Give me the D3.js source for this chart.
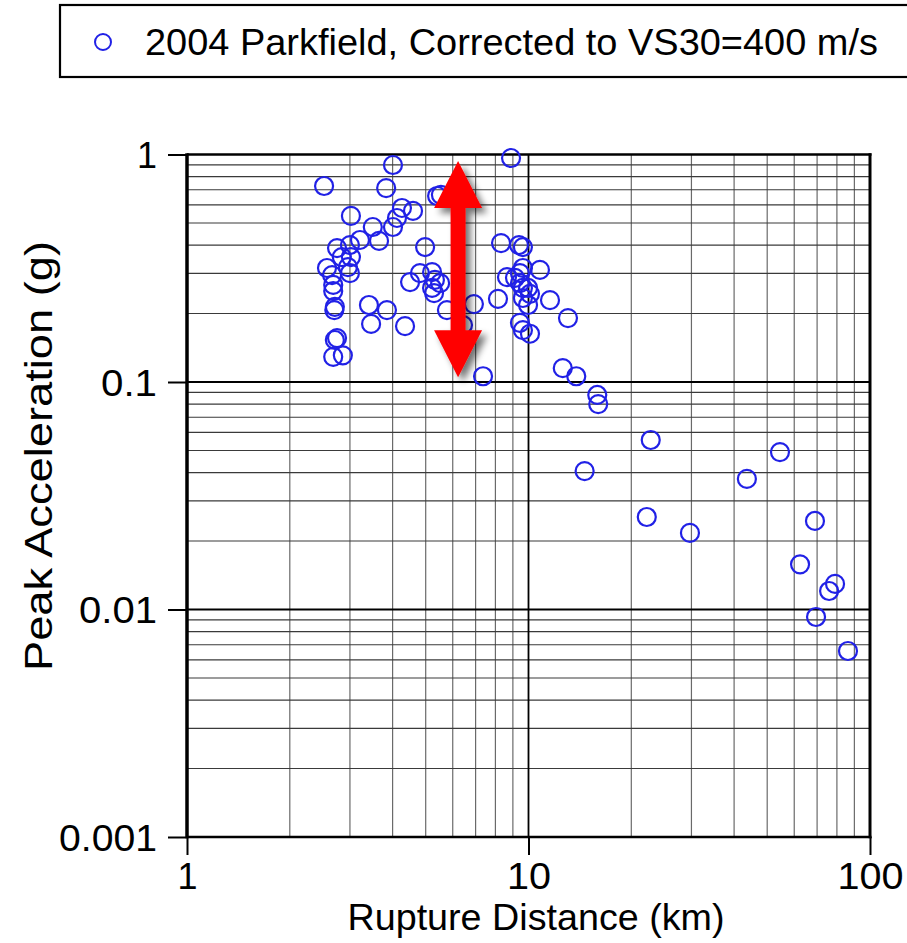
<!DOCTYPE html>
<html>
<head>
<meta charset="utf-8">
<script src="https://cdn.jsdelivr.net/npm/d3@7"></script>
<style>
  html, body { margin: 0; padding: 0; background: #fff; }
  svg { display: block; }
  text { font-family: "Liberation Sans", Arial, Helvetica, sans-serif; fill: #000; }
</style>
</head>
<body>
<svg id="chart" width="907" height="943"></svg>
<script>
// Rupture distance (km) and peak ground acceleration (g), 2004 Parkfield records
const distanceKm = [
  2.52, 3.02, 3.50, 3.65, 3.21, 2.75, 3.00, 2.84, 3.02, 2.96, 3.00, 2.57, 2.66, 2.68, 2.68,
  2.71, 2.70, 3.41, 3.85, 3.46, 4.35, 2.75, 2.71, 2.68, 2.86,
  4.01, 3.83, 4.26, 4.59, 4.12, 4.01, 5.40, 5.54, 4.98, 8.89,
  4.50, 4.81, 5.22, 5.32, 5.51, 5.22, 5.29, 5.77, 6.92, 6.43, 7.36, 8.14, 8.31, 9.38, 9.63,
  8.65, 9.13, 9.44, 9.63, 10.8, 9.44, 9.63, 9.97, 10.1, 9.63, 9.97, 11.56, 9.44, 9.63, 10.1, 13.05,
  12.6, 13.8, 15.9, 16.0, 22.8, 14.6, 54.5, 43.6, 22.2, 29.7, 69.0, 62.4, 79.0, 75.9, 69.5, 86.2
];
const pgaG = [
  0.727, 0.537, 0.480, 0.417, 0.421, 0.388, 0.400, 0.354, 0.354, 0.320, 0.301, 0.317, 0.295, 0.267, 0.251,
  0.214, 0.207, 0.218, 0.207, 0.180, 0.176, 0.156, 0.153, 0.129, 0.131,
  0.899, 0.712, 0.582, 0.565, 0.526, 0.480, 0.657, 0.665, 0.392, 0.965,
  0.275, 0.301, 0.304, 0.281, 0.272, 0.259, 0.246, 0.207, 0.220, 0.178, 0.106, 0.232, 0.408, 0.400, 0.392,
  0.289, 0.287, 0.301, 0.317, 0.311, 0.272, 0.259, 0.259, 0.244, 0.234, 0.218, 0.229, 0.182, 0.169, 0.163, 0.191,
  0.115, 0.106, 0.0877, 0.080, 0.0556, 0.0406, 0.0492, 0.0375, 0.0255, 0.0217, 0.0245, 0.0158, 0.01295, 0.01206, 0.00927, 0.00657
];

const xTickValues = [1, 10, 100];
const xTickLabels = ["1", "10", "100"];
const yTickValues = [1, 0.1, 0.01, 0.001];
const yTickLabels = ["1", "0.1", "0.01", "0.001"];

const legendLabel = "2004 Parkfield, Corrected to VS30=400 m/s";
const xTitle = "Rupture Distance (km)";
const yTitle = "Peak Acceleration (g)";

// Arrow marking the scatter band: spans these PGA values at this distance
const arrowDistance = 6.22;
const arrowTop = 0.936;
const arrowBottom = 0.105;

const svg = d3.select("#chart");
const plot = { left: 187, right: 870, top: 154.5, bottom: 837 };

const x = d3.scaleLog().domain([1, 100]).range([plot.left, plot.right]);
const y = d3.scaleLog().domain([0.001, 1]).range([plot.bottom, plot.top]);

// Stretch a text element horizontally to a given rendered width
function fitWidth(sel, w) {
  sel.attr("textLength", w).attr("lengthAdjust", "spacingAndGlyphs");
}

// Minor gridlines at 2..9 of every decade
const minorX = [];
for (const d of [1, 10]) for (let k = 2; k <= 9; k++) minorX.push(d * k);
const minorY = [];
for (const d of [0.001, 0.01, 0.1]) for (let k = 2; k <= 9; k++) minorY.push(d * k);

const grid = svg.append("g");
grid.selectAll(".mx").data(minorX).join("line")
  .attr("x1", d => x(d)).attr("x2", d => x(d))
  .attr("y1", plot.top).attr("y2", plot.bottom)
  .attr("stroke", "#6a6a6a").attr("stroke-width", 1.2);
grid.selectAll(".my").data(minorY).join("line")
  .attr("x1", plot.left).attr("x2", plot.right)
  .attr("y1", d => y(d)).attr("y2", d => y(d))
  .attr("stroke", "#3a3a3a").attr("stroke-width", 1.2);
// Major gridlines
grid.selectAll(".Mx").data([10]).join("line")
  .attr("x1", d => x(d)).attr("x2", d => x(d))
  .attr("y1", plot.top).attr("y2", plot.bottom)
  .attr("stroke", "#000").attr("stroke-width", 1.8);
grid.selectAll(".My").data([0.1, 0.01]).join("line")
  .attr("x1", plot.left).attr("x2", plot.right)
  .attr("y1", d => y(d)).attr("y2", d => y(d))
  .attr("stroke", "#000").attr("stroke-width", 1.8);

// Plot frame
svg.append("line").attr("x1", plot.left).attr("x2", plot.right + 1.5)
  .attr("y1", plot.top).attr("y2", plot.top).attr("stroke", "#000").attr("stroke-width", 2.5);
svg.append("line").attr("x1", plot.left).attr("x2", plot.right + 1.5)
  .attr("y1", plot.bottom).attr("y2", plot.bottom).attr("stroke", "#000").attr("stroke-width", 2.5);
svg.append("line").attr("x1", plot.left).attr("x2", plot.left)
  .attr("y1", plot.top - 1.2).attr("y2", plot.bottom + 1.2).attr("stroke", "#000").attr("stroke-width", 3.5);
svg.append("line").attr("x1", plot.right).attr("x2", plot.right)
  .attr("y1", plot.top - 1.2).attr("y2", plot.bottom + 1.2).attr("stroke", "#000").attr("stroke-width", 3);

// Axes with outward major ticks
const xAxis = d3.axisBottom(x).tickValues(xTickValues)
  .tickFormat((d, i) => xTickLabels[i]).tickSize(18).tickPadding(5);
const gx = svg.append("g").attr("transform", `translate(0,${plot.bottom})`).call(xAxis);
gx.select(".domain").remove();
gx.selectAll(".tick line").attr("stroke", "#000").attr("stroke-width", 2);
gx.selectAll(".tick text").attr("font-size", 37).attr("dy", "0.78em")
  .each(function (d, i) { fitWidth(d3.select(this), [20, 44, 66][i]); });

const yAxis = d3.axisLeft(y).tickValues(yTickValues)
  .tickFormat((d, i) => yTickLabels[i]).tickSize(19).tickPadding(11);
const gy = svg.append("g").attr("transform", `translate(${plot.left},0)`).call(yAxis);
gy.select(".domain").remove();
gy.selectAll(".tick line").attr("stroke", "#000").attr("stroke-width", 2);
gy.selectAll(".tick text").attr("font-size", 37).attr("dy", "0.36em")
  .each(function (d, i) { fitWidth(d3.select(this), [20, 56, 78, 98][i]); });

// Axis titles
svg.append("text").attr("x", 536).attr("y", 930).attr("text-anchor", "middle")
  .attr("font-size", 37).text(xTitle).call(s => fitWidth(s, 377));
svg.append("text").attr("transform", "translate(52,456) rotate(-90)")
  .attr("text-anchor", "middle").attr("font-size", 38).text(yTitle)
  .call(s => fitWidth(s, 430));

// Data points
const pts = distanceKm.map((d, i) => ({ d, a: pgaG[i] }));
svg.append("g").selectAll("circle").data(pts).join("circle")
  .attr("cx", p => x(p.d)).attr("cy", p => y(p.a)).attr("r", 9)
  .attr("fill", "none").attr("stroke", "#2121e6").attr("stroke-width", 2.2);

// Double-headed red arrow with a soft drop shadow
const defs = svg.append("defs");
const f = defs.append("filter").attr("id", "shadow")
  .attr("x", "-50%").attr("y", "-20%").attr("width", "200%").attr("height", "140%");
f.append("feGaussianBlur").attr("in", "SourceAlpha").attr("stdDeviation", 3.5).attr("result", "b");
f.append("feOffset").attr("in", "b").attr("dx", 5).attr("dy", 5).attr("result", "o");
f.append("feComponentTransfer").attr("in", "o").attr("result", "s")
  .append("feFuncA").attr("type", "linear").attr("slope", 0.55);
const m = f.append("feMerge");
m.append("feMergeNode").attr("in", "s");
m.append("feMergeNode").attr("in", "SourceGraphic");

const ax = x(arrowDistance), ay1 = y(arrowTop), ay2 = y(arrowBottom);
const headH = 47, headW = 24, shaftW = 7.5;
const arrowPath = d3.path();
arrowPath.moveTo(ax, ay1);
arrowPath.lineTo(ax + headW, ay1 + headH);
arrowPath.lineTo(ax + shaftW, ay1 + headH);
arrowPath.lineTo(ax + shaftW, ay2 - headH);
arrowPath.lineTo(ax + headW, ay2 - headH);
arrowPath.lineTo(ax, ay2);
arrowPath.lineTo(ax - headW, ay2 - headH);
arrowPath.lineTo(ax - shaftW, ay2 - headH);
arrowPath.lineTo(ax - shaftW, ay1 + headH);
arrowPath.lineTo(ax - headW, ay1 + headH);
arrowPath.closePath();
svg.append("path").attr("d", arrowPath.toString())
  .attr("fill", "#ff0000").attr("filter", "url(#shadow)");

// Legend
const lg = svg.append("g");
lg.append("rect").attr("x", 60).attr("y", 5).attr("width", 860).attr("height", 72)
  .attr("fill", "#fff").attr("stroke", "#000").attr("stroke-width", 2.2);
lg.append("circle").attr("cx", 103).attr("cy", 42).attr("r", 8)
  .attr("fill", "none").attr("stroke", "#2121e6").attr("stroke-width", 2);
lg.append("text").attr("x", 145).attr("y", 55).attr("font-size", 37)
  .text(legendLabel).call(s => fitWidth(s, 733));
</script>
</body>
</html>
